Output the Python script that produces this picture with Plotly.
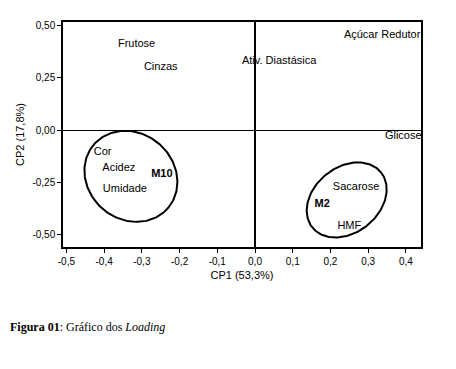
import numpy as np
import plotly.graph_objects as go

# Variable labels (loadings) and their positions
var_names = ["Frutose", "Cinzas", "Ativ. Diastásica", "Açúcar Redutor", "Glicose",
             "Cor", "Acidez", "Umidade", "Sacarose", "HMF"]
var_cp1 = [-0.314, -0.25, 0.064, 0.337, 0.393, -0.404, -0.361, -0.345, 0.268, 0.25]
var_cp2 = [0.412, 0.303, 0.33, 0.455, -0.027, -0.107, -0.184, -0.284, -0.274, -0.46]

# Sample labels
sample_names = ["M10", "M2"]
sample_cp1 = [-0.247, 0.178]
sample_cp2 = [-0.211, -0.356]

# Group ellipses: centre (data units), semi-axes (px), rotation (deg)
ell_cx = [-0.329, 0.243]
ell_cy = [-0.221, -0.334]
ell_a = [48.8, 44.0]
ell_b = [43.0, 32.7]
ell_ang = [-40.0, 38.6]

x_ticks = [-0.5, -0.4, -0.3, -0.2, -0.1, 0.0, 0.1, 0.2, 0.3, 0.4]
x_ticktext = ["-0,5", "-0,4", "-0,3", "-0,2", "-0,1", "0,0", "0,1", "0,2", "0,3", "0,4"]
y_ticks = [0.5, 0.25, 0.0, -0.25, -0.5]
y_ticktext = ["0,50", "0,25", "0,00", "-0,25", "-0,50"]

X_RANGE = [-0.509, 0.440]
Y_RANGE = [-0.559, 0.517]
PLOT_W = 358
PLOT_H = 224.7
PX_X = PLOT_W / (X_RANGE[1] - X_RANGE[0])
PX_Y = PLOT_H / (Y_RANGE[1] - Y_RANGE[0])

# page has an 8px body margin, so the figure is offset
W, H = 448, 361
ML, MT = 55, 14
MR = W - ML - PLOT_W
MB = H - MT - PLOT_H

fig = go.Figure()

t = np.linspace(0, 2 * np.pi, 200)
for cx, cy, a, b, ang in zip(ell_cx, ell_cy, ell_a, ell_b, ell_ang):
    th = np.deg2rad(ang)
    p = a * np.cos(th) * np.cos(t) - b * np.sin(th) * np.sin(t)
    q = a * np.sin(th) * np.cos(t) + b * np.cos(th) * np.sin(t)
    fig.add_trace(go.Scatter(x=cx + p / PX_X, y=cy + q / PX_Y, mode="lines",
                             line=dict(color="black", width=2), hoverinfo="skip",
                             showlegend=False))

fig.add_trace(go.Scatter(x=var_cp1, y=var_cp2, mode="text", text=var_names,
                         textposition="middle center", cliponaxis=False,
                         textfont=dict(family="Arial, Liberation Sans", size=11, color="black"),
                         showlegend=False))
fig.add_trace(go.Scatter(x=sample_cp1, y=sample_cp2, mode="text",
                         text=["<b>" + s + "</b>" for s in sample_names],
                         textposition="middle center", cliponaxis=False,
                         textfont=dict(family="Arial, Liberation Sans", size=11, color="black"),
                         showlegend=False))

fig.update_xaxes(range=X_RANGE, tickvals=x_ticks, ticktext=x_ticktext,
                 showgrid=False, zeroline=True, zerolinecolor="black", zerolinewidth=2,
                 showline=True, mirror=True, linecolor="black", linewidth=1.5,
                 ticks="outside", ticklen=4, tickcolor="black",
                 tickfont=dict(family="Arial, Liberation Sans", size=10, color="black"),
                 title=dict(text="CP1 (53,3%)", standoff=6,
                            font=dict(family="Arial, Liberation Sans", size=11, color="black")))
fig.update_yaxes(range=Y_RANGE, tickvals=y_ticks, ticktext=y_ticktext,
                 showgrid=False, zeroline=True, zerolinecolor="black", zerolinewidth=1,
                 showline=True, mirror=True, linecolor="black", linewidth=1.5,
                 ticks="outside", ticklen=4, tickcolor="black",
                 tickfont=dict(family="Arial, Liberation Sans", size=10, color="black"),
                 title=dict(text="CP2 (17,8%)", standoff=6,
                            font=dict(family="Arial, Liberation Sans", size=11, color="black")))

fig.add_annotation(text="<b>Figura 01</b>: Gráfico dos <i>Loading</i>",
                   xref="paper", yref="paper", x=-ML / PLOT_W, y=-(327 - 8 - MT - PLOT_H) / PLOT_H,
                   xanchor="left", yanchor="middle", showarrow=False,
                   font=dict(family="Times New Roman, Liberation Serif", size=12, color="black"))

fig.update_layout(width=W, height=H, margin=dict(l=ML, r=MR, t=MT, b=MB),
                  plot_bgcolor="white", paper_bgcolor="white")

fig.write_html("out.html")
